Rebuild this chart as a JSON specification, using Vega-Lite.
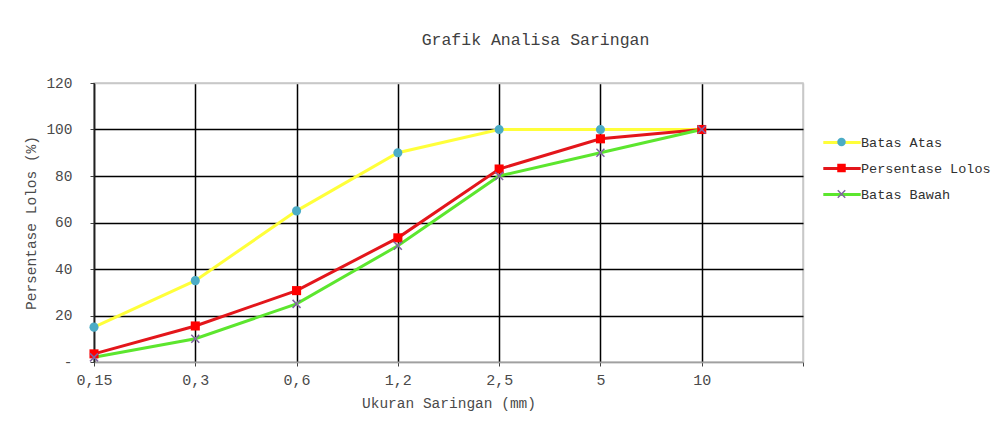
{
  "$schema": "https://vega.github.io/schema/vega-lite/v6.json",
  "autosize": {"type": "none"},
  "width": 709,
  "height": 279,
  "padding": {"left": 94, "top": 83, "right": 195, "bottom": 63},
  "background": "white",
  "config": {
    "font": "Liberation Mono",
    "view": {"stroke": "#c8c8c8", "strokeWidth": 1.5},
    "axis": {"labelFont": "Liberation Mono", "titleFont": "Liberation Mono", "labelColor": "#4a4a4a", "titleColor": "#4a4a4a", "titleFontWeight": "normal", "labelFontSize": 14.5, "titleFontSize": 14.5}
  },
  "title": {"text": "Grafik Analisa Saringan", "font": "Liberation Mono", "fontSize": 16.5, "fontWeight": "normal", "color": "#404040", "anchor": "middle", "dx": 87, "offset": 27},
  "data": {"values": [
    {"size": "0,15", "series": "Batas Atas", "value": 15},
    {"size": "0,3", "series": "Batas Atas", "value": 35},
    {"size": "0,6", "series": "Batas Atas", "value": 65},
    {"size": "1,2", "series": "Batas Atas", "value": 90},
    {"size": "2,5", "series": "Batas Atas", "value": 100},
    {"size": "5", "series": "Batas Atas", "value": 100},
    {"size": "10", "series": "Batas Atas", "value": 100},
    {"size": "0,15", "series": "Persentase Lolos", "value": 3.5},
    {"size": "0,3", "series": "Persentase Lolos", "value": 15.5},
    {"size": "0,6", "series": "Persentase Lolos", "value": 30.7},
    {"size": "1,2", "series": "Persentase Lolos", "value": 53.4},
    {"size": "2,5", "series": "Persentase Lolos", "value": 83},
    {"size": "5", "series": "Persentase Lolos", "value": 96},
    {"size": "10", "series": "Persentase Lolos", "value": 100},
    {"size": "0,15", "series": "Batas Bawah", "value": 2},
    {"size": "0,3", "series": "Batas Bawah", "value": 10},
    {"size": "0,6", "series": "Batas Bawah", "value": 25},
    {"size": "1,2", "series": "Batas Bawah", "value": 50},
    {"size": "2,5", "series": "Batas Bawah", "value": 80},
    {"size": "5", "series": "Batas Bawah", "value": 90},
    {"size": "10", "series": "Batas Bawah", "value": 100}
  ]},
  "encoding": {
    "x": {
      "field": "size", "type": "ordinal",
      "scale": {"type": "point", "domain": ["0,15", "0,3", "0,6", "1,2", "2,5", "5", "10", " "], "padding": 0},
      "axis": {
        "title": "Ukuran Saringan (mm)", "labelAngle": 0, "labelPadding": 6, "titlePadding": 9, "labelFontSize": 15,
        "grid": true, "gridColor": {"condition": {"test": "datum.value == ' '", "value": "#c8c8c8"}, "value": "black"}, "gridWidth": 1.5,
        "domainColor": "#a0a0a0", "domainWidth": 1.5, "tickColor": "#404040", "tickSize": 4
      }
    },
    "y": {
      "field": "value", "type": "quantitative",
      "scale": {"domain": [0, 120], "nice": false},
      "axis": {
        "title": "Persentase Lolos (%)", "values": [0, 20, 40, 60, 80, 100, 120],
        "labelExpr": "datum.value == 0 ? '-' : datum.label", "labelPadding": 18, "titlePadding": 7,
        "grid": true, "gridColor": {"condition": {"test": "datum.value == 0 || datum.value == 120", "value": "#c8c8c8"}, "value": "black"}, "gridWidth": 1.5,
        "domainColor": "#202020", "domainWidth": 1.5, "tickColor": "#404040", "tickSize": 4
      }
    }
  },
  "layer": [
    {
      "mark": {"type": "line", "strokeWidth": 3},
      "encoding": {
        "stroke": {
          "field": "series", "type": "nominal",
          "scale": {"domain": ["Batas Atas", "Persentase Lolos", "Batas Bawah"], "range": ["#ffff3a", "#e3161b", "#5ce62e"]},
          "legend": {"title": null, "orient": "none", "legendX": 738, "legendY": 49.5, "symbolType": "M-2.2,0H2.2", "symbolSize": 289, "symbolStrokeWidth": 3, "labelFont": "Liberation Mono", "labelFontSize": 13.5, "labelColor": "#303030", "labelOffset": 9, "rowPadding": 9, "labelLimit": 300}
        }
      }
    },
    {
      "mark": {"type": "point", "filled": true, "opacity": 1, "size": 330},
      "encoding": {
        "fill": {
          "field": "series", "type": "nominal", "sort": null,
          "scale": {"range": ["#4bacc6", "#ff0000", "#8064a2"]},
          "legend": {"title": null, "orient": "none", "legendX": 738, "legendY": 49.5, "symbolSize": 289, "labelExpr": "''", "labelFontSize": 13.5, "labelFont": "Liberation Mono", "rowPadding": 9}
        },
        "shape": {
          "field": "series", "type": "nominal", "sort": null,
          "scale": {"range": ["M0.5,0A0.5,0.5 0 1,1 -0.5,0A0.5,0.5 0 1,1 0.5,0Z", "M-0.5,-0.5H0.5V0.5H-0.5Z", "M-0.5,-0.38L-0.38,-0.5L0,-0.12L0.38,-0.5L0.5,-0.38L0.12,0L0.5,0.38L0.38,0.5L0,0.12L-0.38,0.5L-0.5,0.38L-0.12,0Z"]},
          "legend": {"title": null, "orient": "none", "legendX": 738, "legendY": 49.5, "symbolSize": 289, "labelExpr": "''", "labelFontSize": 13.5, "labelFont": "Liberation Mono", "rowPadding": 9}
        }
      }
    }
  ]
}
